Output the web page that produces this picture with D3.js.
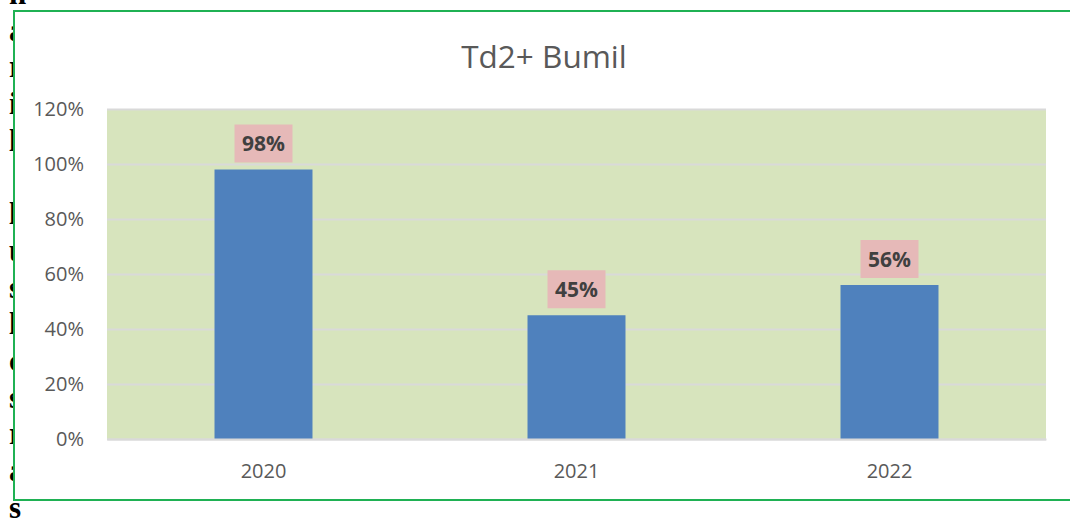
<!DOCTYPE html>
<html>
<head>
<meta charset="utf-8">
<script src="https://cdn.jsdelivr.net/npm/d3@7"></script>
<style>
  body { margin: 0; background: #fff; }
  svg { display: block; }
</style>
</head>
<body>
<div id="chart"></div>
<script>
// data
var years = ['2020', '2021', '2022'];
var values = [0.98, 0.45, 0.56];
var yTicks = [0, 0.2, 0.4, 0.6, 0.8, 1.0, 1.2];
var title = 'Td2+ Bumil';
// letters of the document text peeking out on the left
var sideLetters = ['n', 'a', 'r', 'i', 'l', '', 'l', 'u', 's', 'l', 'c', 's', 'r', 'a', 's'];

var w = 1070;
var h = 518;
var plot = { left: 107, right: 1046, top: 109, bottom: 439 };

var svg = d3.select('#chart')
  .append('svg')
    .attr('width', w)
    .attr('height', h);

// background text behind the frame
svg.selectAll('.side-letter')
  .data(sideLetters)
  .enter()
  .append('text')
    .attr('class', 'side-letter')
    .attr('x', 9)
    .attr('y', (d, i) => 4 + i * 36.7)
    .attr('font-family', 'Liberation Serif, serif')
    .attr('font-weight', 'bold')
    .attr('font-size', 31)
    .attr('fill', '#000')
    .text(d => d);

// chart frame
svg.append('rect')
  .attr('x', 14)
  .attr('y', 11)
  .attr('width', w)
  .attr('height', 489)
  .attr('fill', '#fff')
  .attr('stroke', '#1fb153')
  .attr('stroke-width', 2);

var x = d3.scaleBand()
  .domain(years)
  .range([plot.left, plot.right])
  .paddingInner(0.687)
  .paddingOuter(0.3435);

var y = d3.scaleLinear()
  .domain([0, 1.2])
  .range([plot.bottom, plot.top]);

// plot area
svg.append('rect')
  .attr('x', plot.left)
  .attr('y', plot.top)
  .attr('width', plot.right - plot.left)
  .attr('height', plot.bottom - plot.top)
  .attr('fill', '#d7e4bd');

// gridlines
var yAxis = d3.axisLeft(y)
  .tickValues(yTicks)
  .tickFormat(d3.format('.0%'))
  .tickSize(-(plot.right - plot.left))
  .tickPadding(23);

var gy = svg.append('g')
  .attr('transform', 'translate(' + plot.left + ',0)')
  .call(yAxis);

gy.select('.domain').remove();
gy.selectAll('.tick line')
  .attr('stroke', '#d9d9d9')
  .attr('stroke-width', 2);
gy.selectAll('.tick text')
  .attr('fill', '#595959')
  .attr('font-family', 'Open Sans, sans-serif')
  .attr('font-size', 20);

// bars
svg.selectAll('.bar')
  .data(values)
  .enter()
  .append('rect')
    .attr('class', 'bar')
    .attr('x', (d, i) => x(years[i]))
    .attr('y', d => y(d))
    .attr('width', x.bandwidth())
    .attr('height', d => y(0) - y(d))
    .attr('fill', '#4f81bd');

// data labels
var labels = svg.selectAll('.data-label')
  .data(values)
  .enter()
  .append('g')
    .attr('class', 'data-label')
    .attr('transform', function(d, i) {
      return 'translate(' + (x(years[i]) + x.bandwidth() / 2) + ',' + (y(d) - 26) + ')';
    });

labels.append('rect')
  .attr('x', -29)
  .attr('y', -19)
  .attr('width', 58)
  .attr('height', 38)
  .attr('fill', '#e6b9b8');

labels.append('text')
  .attr('text-anchor', 'middle')
  .attr('dy', '0.36em')
  .attr('font-family', 'Open Sans, sans-serif')
  .attr('font-weight', 'bold')
  .attr('font-size', 21)
  .attr('fill', '#404040')
  .text(d => d3.format('.0%')(d));

// x axis
var xAxis = d3.axisBottom(x)
  .tickSize(0)
  .tickPadding(25);

var gx = svg.append('g')
  .attr('transform', 'translate(0,' + plot.bottom + ')')
  .call(xAxis);

gx.select('.domain')
  .attr('stroke', '#d9d9d9')
  .attr('stroke-width', 2);
gx.selectAll('.tick text')
  .attr('fill', '#595959')
  .attr('font-family', 'Open Sans, sans-serif')
  .attr('font-size', 20);

// title
svg.append('text')
  .attr('x', 544)
  .attr('y', 68)
  .attr('text-anchor', 'middle')
  .attr('font-family', 'Open Sans, sans-serif')
  .attr('font-size', 31.5)
  .attr('fill', '#595959')
  .text(title);
</script>
</body>
</html>
